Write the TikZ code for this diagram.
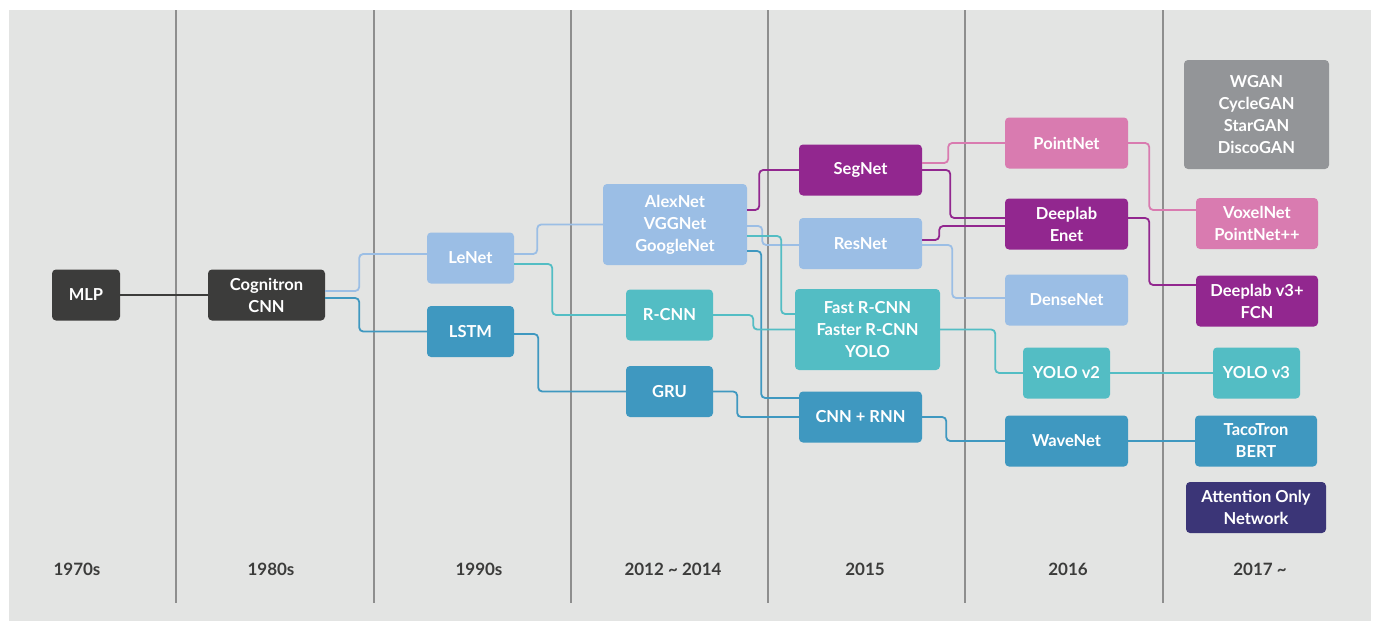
\documentclass[tikz,border=0pt]{standalone}
\usepackage{fontspec}
\setmainfont{Lato}
\usetikzlibrary{calc}

\definecolor{bggray}{HTML}{E3E4E3}
\definecolor{sepgray}{HTML}{8E8E8E}
\definecolor{netdark}{HTML}{3C3C3B}
\definecolor{netlight}{HTML}{9BBEE5}
\definecolor{netblue}{HTML}{3F98C0}
\definecolor{netteal}{HTML}{53BDC4}
\definecolor{netpurple}{HTML}{92278F}
\definecolor{netpink}{HTML}{D97BB0}
\definecolor{netgray}{HTML}{939598}
\definecolor{netnavy}{HTML}{3B3577}

\tikzset{
  net/.style={rounded corners=4pt, text=white, align=center, inner sep=0pt,
    minimum height=51pt, font=\fontsize{16.5}{22}\selectfont\bfseries},
  link/.style={line width=1.8pt, rounded corners=4pt},
  year/.style={text=netdark, font=\fontsize{17}{20}\selectfont\bfseries},
}

\begin{document}
\begin{tikzpicture}[x=1pt,y=1pt,yscale=-1]
        % Background
        \fill[white] (0,0) rectangle (1376,621);
        \fill[bggray] (9,10) rectangle (1371,621);
        \useasboundingbox (0,0) rectangle (1376,621);

        % Era separators
        \foreach \sx in {176,374,571,768,965,1163}
            \draw[sepgray, line width=1.2pt] (\sx,10) -- (\sx,603);

        % Years
        \node[year] (yseventies) at (77,569) {1970s};
        \node[year] (yeighties) at (271,569) {1980s};
        \node[year] (ynineties) at (479,569) {1990s};
        \node[year] (ytwelve) at (673,569) {2012 \textasciitilde{} 2014};
        \node[year] (yfifteen) at (865,569) {2015};
        \node[year] (ysixteen) at (1068,569) {2016};
        \node[year] (yseventeen) at (1260,569) {2017 \textasciitilde};

        % Networks
        \node[net, fill=netdark, minimum width=68] (mlp) at (86,295) {MLP};
        \node[net, fill=netdark, minimum width=117] (cog) at (266.5,295) {Cognitron\\CNN};
        \node[net, fill=netlight, minimum width=87] (lenet) at (470.5,258) {LeNet};
        \node[net, fill=netblue, minimum width=87] (lstm) at (470.5,331.5) {LSTM};
        \node[net, fill=netlight, minimum width=144, minimum height=81] (alex) at (675,224.5) {AlexNet\\VGGNet\\GoogleNet};
        \node[net, fill=netteal, minimum width=87] (rcnn) at (669.5,315) {R-CNN};
        \node[net, fill=netblue, minimum width=87] (gru) at (669.5,391.5) {GRU};
        \node[net, fill=netpurple, minimum width=123] (segnet) at (860.5,170) {SegNet};
        \node[net, fill=netlight, minimum width=123] (resnet) at (860.5,243.5) {ResNet};
        \node[net, fill=netteal, minimum width=145, minimum height=81] (fastrcnn) at (867.5,329.5) {Fast R-CNN\\Faster R-CNN\\YOLO};
        \node[net, fill=netblue, minimum width=123] (cnnrnn) at (860.5,417) {CNN + RNN};
        \node[net, fill=netpink, minimum width=123] (pointnet) at (1066.5,143) {PointNet};
        \node[net, fill=netpurple, minimum width=123] (deeplab) at (1066.5,224) {Deeplab\\Enet};
        \node[net, fill=netlight, minimum width=123] (densenet) at (1066.5,300) {DenseNet};
        \node[net, fill=netteal, minimum width=87] (yolotwo) at (1066.5,373) {YOLO v2};
        \node[net, fill=netblue, minimum width=123] (wavenet) at (1066.5,441) {WaveNet};
        \node[net, fill=netgray, minimum width=145, minimum height=109] (gan) at (1256.5,114.5) {WGAN\\CycleGAN\\StarGAN\\DiscoGAN};
        \node[net, fill=netpink, minimum width=122] (voxelnet) at (1257,223.5) {VoxelNet\\PointNet++};
        \node[net, fill=netpurple, minimum width=122] (deeplabthree) at (1257,301) {Deeplab v3+\\FCN};
        \node[net, fill=netteal, minimum width=87] (yolothree) at (1256.5,373) {YOLO v3};
        \node[net, fill=netblue, minimum width=122] (tacotron) at (1256,441) {TacoTron\\BERT};
        \node[net, fill=netnavy, minimum width=140] (attention) at (1256,507.5) {Attention Only\\Network};

        % Links
        \draw[link, netdark] (mlp) -- (cog);
        \draw[link, netlight] ($(cog.east)+(0,-4)$) -- ++(34,0) |- ($(lenet.west)+(0,-4)$);
        \draw[link, netblue] ($(cog.east)+(0,3)$) -- ++(34,0) |- (lstm.west);
        \draw[link, netlight] ($(lenet.east)+(0,-4)$) -- ++(23,0) |- (alex.west);
        \draw[link, netteal] ($(lenet.east)+(0,6)$) -- ++(38,0) |- (rcnn.west);
        \draw[link, netblue] ($(lstm.east)+(0,2.5)$) -- ++(24,0) |- (gru.west);
        \draw[link, netpurple] ($(alex.east)+(0,-14.5)$) -- ++(12,0) |- (segnet.west);
        \draw[link, netlight] ($(alex.east)+(0,1.5)$) -- ++(15,0) |- ($(resnet.west)+(0,1.5)$);
        \draw[link, netteal] ($(alex.east)+(0,11.5)$) -- ++(34,0) |- ($(fastrcnn.west)+(0,-15.5)$);
        \draw[link, netblue] ($(alex.east)+(0,26.5)$) -- ++(14,0) |- ($(cnnrnn.west)+(0,-19)$);
        \draw[link, netteal] (rcnn.east) -- ++(40,0) |- (fastrcnn.west);
        \draw[link, netblue] (gru.east) -- ++(24,0) |- (cnnrnn.west);
        \draw[link, netpink] ($(segnet.east)+(0,-7)$) -- ++(26,0) |- (pointnet.west);
        \draw[link, netpurple] (segnet.east) -- ++(28,0) |- ($(deeplab.west)+(0,-6)$);
        \draw[link, netpurple] ($(resnet.east)+(0,-3.5)$) -- ++(17,0) |- ($(deeplab.west)+(0,2)$);
        \draw[link, netlight] ($(resnet.east)+(0,1.5)$) -- ++(30,0) |- ($(densenet.west)+(0,-2)$);
        \draw[link, netteal] (fastrcnn.east) -- ++(55,0) |- (yolotwo.west);
        \draw[link, netblue] (cnnrnn.east) -- ++(24,0) |- (wavenet.west);
        \draw[link, netpink] (pointnet.east) -- ++(21,0) |- ($(voxelnet.west)+(0,-13.5)$);
        \draw[link, netpurple] ($(deeplab.east)+(0,-6)$) -- ++(21,0) |- ($(deeplabthree.west)+(0,-16)$);
        \draw[link, netteal] (yolotwo) -- (yolothree);
        \draw[link, netblue] (wavenet) -- (tacotron);
\end{tikzpicture}
\end{document}
